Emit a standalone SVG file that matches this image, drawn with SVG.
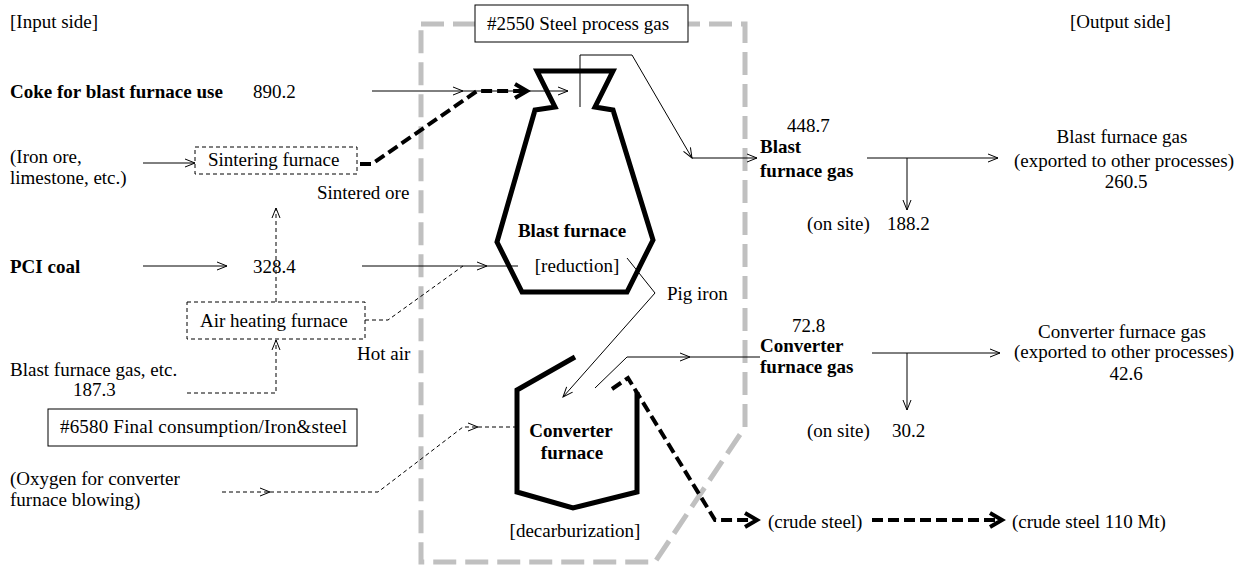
<svg xmlns="http://www.w3.org/2000/svg" width="1248" height="567" viewBox="0 0 1248 567">
  <style>
    text { font-family: "Liberation Serif", "Times New Roman", serif; font-size: 19px; fill: #000; }
    .b { font-weight: bold; }
    .m { text-anchor: middle; }
    .thin { fill: none; stroke: #000; stroke-width: 1; }
    .dash { fill: none; stroke: #000; stroke-width: 1; stroke-dasharray: 4 3; }
    .bold-dash { fill: none; stroke: #000; stroke-width: 4; stroke-dasharray: 11 5; }
    .vessel { fill: none; stroke: #000; stroke-width: 5; stroke-linejoin: miter; }
    .box { fill: #fff; stroke: #000; stroke-width: 1; }
    .dbox { fill: #fff; stroke: #000; stroke-width: 1; stroke-dasharray: 4 3; }
  </style>
  <defs>
    <marker id="open" viewBox="0 0 12 10" refX="11" refY="5" markerWidth="12" markerHeight="10" markerUnits="userSpaceOnUse" orient="auto">
      <path d="M1,1 L11,5 L1,9" fill="none" stroke="#000" stroke-width="1" stroke-dasharray="none"/>
    </marker>
    <marker id="heavy" viewBox="0 0 20 20" refX="16" refY="10" markerWidth="20" markerHeight="20" markerUnits="userSpaceOnUse" orient="auto">
      <path d="M4,3 L16,10 L4,17" fill="none" stroke="#000" stroke-width="4" stroke-dasharray="none"/>
    </marker>
  </defs>

  <rect width="1248" height="567" fill="#fff"/>

  <!-- process boundary -->
  <g id="boundary">
    <path d="M421,24 L745,24 L745,427 L655,562 L421,562 Z" fill="none" stroke="#c0c0c0" stroke-width="5" stroke-dasharray="23 9"/>
  </g>

  <!-- side headings -->
  <g id="headings">
    <text x="10" y="28">[Input side]</text>
    <text x="1070" y="28">[Output side]</text>
  </g>

  <g id="steel-gas-label">
    <rect class="box" x="475" y="5" width="213" height="37"/>
    <text x="487" y="30">#2550 Steel process gas</text>
  </g>

  <g id="final-consumption">
    <rect class="box" x="48" y="409" width="309" height="37"/>
    <text x="60" y="433" textLength="287" lengthAdjust="spacing">#6580 Final consumption/Iron&amp;steel</text>
  </g>

  <!-- inputs -->
  <g id="coke">
    <text class="b" x="10" y="98">Coke for blast furnace use</text>
    <text x="253" y="98">890.2</text>
  </g>
  <g id="iron-ore">
    <text x="10" y="163">(Iron ore,</text>
    <text x="10" y="184">limestone, etc.)</text>
  </g>
  <g id="sintering">
    <rect class="dbox" x="195" y="147" width="162" height="27"/>
    <text x="208" y="166">Sintering furnace</text>
  </g>
  <g id="sintered-ore">
    <text x="317" y="199">Sintered ore</text>
  </g>
  <g id="pci">
    <text class="b" x="10" y="273">PCI coal</text>
    <text x="253" y="273">328.4</text>
  </g>
  <g id="air-heating">
    <rect class="dbox" x="187" y="302" width="178" height="37"/>
    <text x="200" y="327">Air heating furnace</text>
  </g>
  <g id="hot-air">
    <text x="357" y="360">Hot air</text>
  </g>
  <g id="bf-gas-input">
    <text x="10" y="376">Blast furnace gas, etc.</text>
    <text x="73" y="396">187.3</text>
  </g>
  <g id="oxygen">
    <text x="10" y="485">(Oxygen for converter</text>
    <text x="10" y="506">furnace blowing)</text>
  </g>

  <!-- blast furnace -->
  <g id="blast-furnace">
    <path class="vessel" d="M537,71 L613,71 L595,107 L613,110 L653,240 L627,292 L522,292 L497,242 L535,110 L555,107 Z"/>
    <text class="b m" x="572" y="237">Blast furnace</text>
    <text class="m" x="577" y="272">[reduction]</text>
  </g>
  <g id="pig-iron">
    <text x="667" y="300">Pig iron</text>
  </g>

  <!-- converter -->
  <g id="converter">
    <path class="vessel" d="M575,357 L517,390 L517,492 L573,508 L637,492 L637,392"/>
    <text class="b m" x="571" y="437">Converter</text>
    <text class="b m" x="572" y="459">furnace</text>
    <text class="m" x="575" y="537">[decarburization]</text>
  </g>

  <!-- outputs -->
  <g id="bf-gas">
    <text x="787" y="132">448.7</text>
    <text class="b" x="760" y="153">Blast</text>
    <text class="b" x="760" y="177">furnace gas</text>
  </g>
  <g id="bf-gas-export">
    <text class="m" x="1122" y="143">Blast furnace gas</text>
    <text class="m" x="1124" y="167">(exported to other processes)</text>
    <text class="m" x="1126" y="188">260.5</text>
  </g>
  <g id="bf-gas-onsite">
    <text x="807" y="230">(on site)</text>
    <text x="887" y="230">188.2</text>
  </g>
  <g id="cf-gas">
    <text x="792" y="332">72.8</text>
    <text class="b" x="760" y="352">Converter</text>
    <text class="b" x="760" y="373">furnace gas</text>
  </g>
  <g id="cf-gas-export">
    <text class="m" x="1122" y="338">Converter furnace gas</text>
    <text class="m" x="1124" y="358">(exported to other processes)</text>
    <text class="m" x="1126" y="380">42.6</text>
  </g>
  <g id="cf-gas-onsite">
    <text x="807" y="437">(on site)</text>
    <text x="892" y="437">30.2</text>
  </g>
  <g id="crude-steel">
    <text x="768" y="528">(crude steel)</text>
  </g>
  <g id="crude-steel-total">
    <text x="1012" y="528">(crude steel 110 Mt)</text>
  </g>

  <!-- connectors -->
  <g id="connectors">
    <!-- coke -->
    <path class="thin" d="M372,91 L463,91" marker-end="url(#open)"/>
    <path class="thin" d="M463,91 L568,91" marker-end="url(#open)"/>
    <!-- ore into sintering, sinter into furnace top -->
    <path class="thin" d="M143,163 L195,163" marker-end="url(#open)"/>
    <path class="bold-dash" d="M360,164 L372,164 L477,91 L527,91" marker-end="url(#heavy)"/>
    <!-- PCI coal -->
    <path class="thin" d="M143,266 L227,266" marker-end="url(#open)"/>
    <path class="thin" d="M362,266 L487,266" marker-end="url(#open)"/>
    <path class="thin" d="M487,266 L518,266"/>
    <!-- air heating -->
    <path class="dash" d="M276,302 L276,208" marker-end="url(#open)"/>
    <path class="dash" d="M365,320 L388,320 L463,266"/>
    <path class="dash" d="M187,393 L276,393 L276,340" marker-end="url(#open)"/>
    <!-- oxygen -->
    <path class="dash" d="M222,492 L270,492" marker-end="url(#open)"/>
    <path class="dash" d="M270,492 L378,492 L463,427 L478,427" marker-end="url(#open)"/>
    <path class="dash" d="M478,427 L518,427"/>
    <!-- blast furnace gas take-off -->
    <path class="thin" d="M580,107 L580,55 L632,55 L692,158" marker-end="url(#open)"/>
    <path class="thin" d="M692,158 L757,158" marker-end="url(#open)"/>
    <path class="thin" d="M867,158 L998,158" marker-end="url(#open)"/>
    <path class="thin" d="M907,158 L907,210" marker-end="url(#open)"/>
    <!-- pig iron -->
    <path class="thin" d="M627,258 L655,293 L563,397" marker-end="url(#open)"/>
    <!-- converter gas -->
    <path class="thin" d="M595,388 L627,357 L690,357" marker-end="url(#open)"/>
    <path class="thin" d="M690,357 L760,357"/>
    <path class="thin" d="M872,353 L1000,353" marker-end="url(#open)"/>
    <path class="thin" d="M907,353 L907,410" marker-end="url(#open)"/>
    <!-- crude steel -->
    <path class="bold-dash" d="M612,389 L628,378 L715,520 L757,520" marker-end="url(#heavy)"/>
    <path class="bold-dash" d="M872,520 L1002,520" marker-end="url(#heavy)"/>
  </g>
</svg>
